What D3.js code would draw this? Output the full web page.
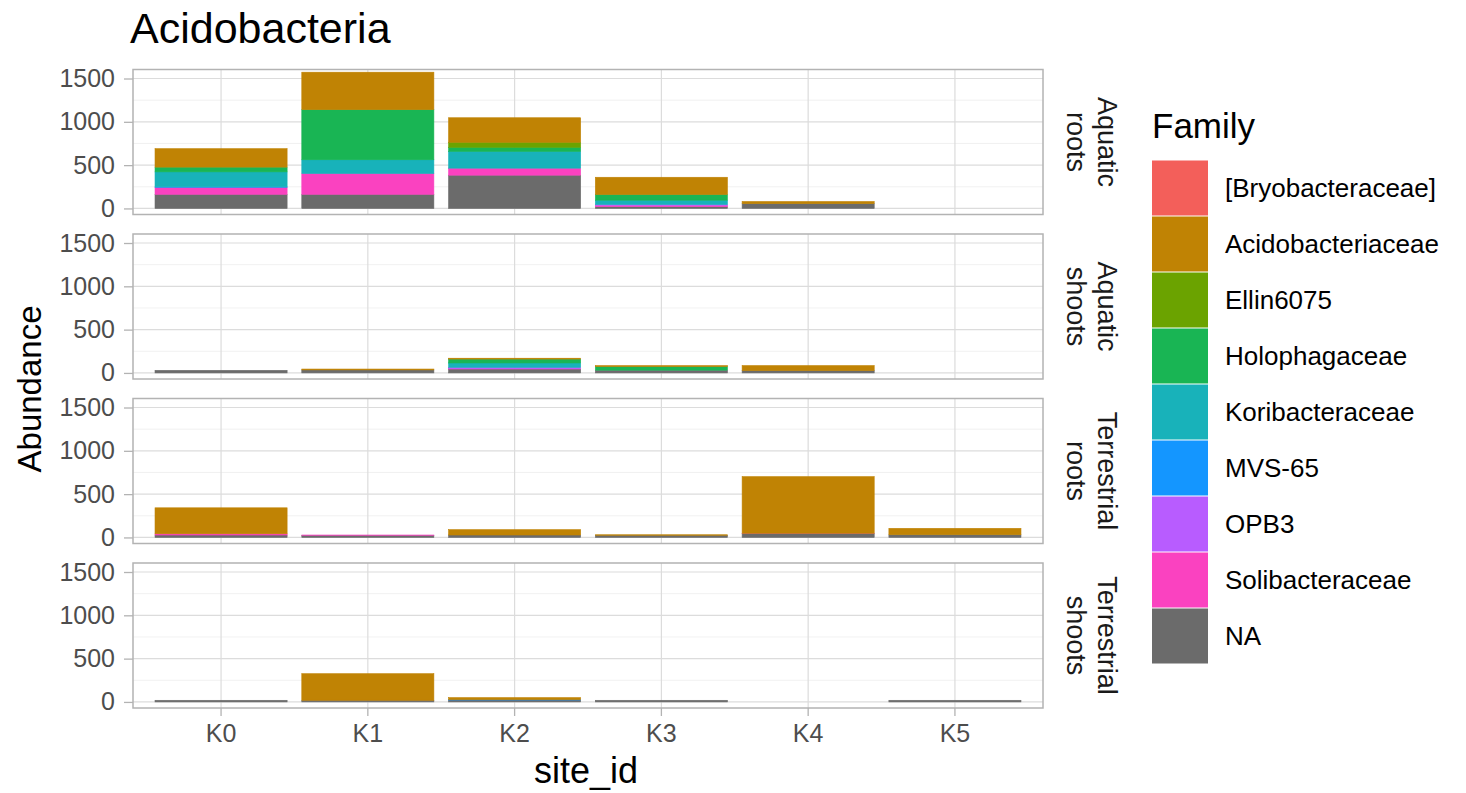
<!DOCTYPE html>
<html><head><meta charset="utf-8">
<script src="https://cdn.jsdelivr.net/npm/d3@7"></script>
<style>body{margin:0;background:#fff;} text{font-family:"Liberation Sans",Arial,sans-serif;}</style>
</head><body>
<svg id="c" width="1466" height="793"></svg>
<script>
const sites = ["K0","K1","K2","K3","K4","K5"];
const families = ["[Bryobacteraceae]","Acidobacteriaceae","Ellin6075","Holophagaceae","Koribacteraceae","MVS-65","OPB3","Solibacteraceae","NA"];
const familyColors = ["#F35F5A","#C08304","#6BA300","#19B554","#18B2BA","#1496FF","#B85CFF","#FA42C0","#6B6B6B"];
const facetLines = [["Aquatic","roots"],["Aquatic","shoots"],["Terrestrial","roots"],["Terrestrial","shoots"]];
const yTicks = [0,500,1000,1500];
const yMinor = [250,750,1250];

// values per facet, per family (sites K0..K5)
const aquaticRoots = {
  "NA":               [163,163,384,20,55,0],
  "Solibacteraceae":  [81,240,81,15,0,0],
  "OPB3":             [0,0,0,10,0,0],
  "MVS-65":           [5,0,0,0,0,0],
  "Koribacteraceae":  [173,159,194,50,0,0],
  "Holophagaceae":    [55,578,47,65,0,0],
  "Ellin6075":        [0,0,58,0,0,0],
  "Acidobacteriaceae":[213,433,283,200,25,0]
};
const aquaticShoots = {
  "NA":               [30,35,45,25,27,0],
  "Solibacteraceae":  [0,0,5,3,0,0],
  "OPB3":             [0,0,15,0,0,0],
  "Koribacteraceae":  [0,0,50,0,0,0],
  "Holophagaceae":    [0,0,45,45,0,0],
  "Acidobacteriaceae":[0,10,10,12,58,0]
};
const terrestrialRoots = {
  "NA":               [28,25,28,25,46,31],
  "Solibacteraceae":  [14,3,0,0,2,0],
  "Acidobacteriaceae":[300,0,62,6,654,74]
};
const terrestrialShoots = {
  "NA":               [19,19,22,19,0,19],
  "MVS-65":           [0,0,4,0,0,0],
  "Acidobacteriaceae":[0,307,24,0,0,0]
};
const facetData = [aquaticRoots, aquaticShoots, terrestrialRoots, terrestrialShoots];

const svg = d3.select("#c");
const panelLeft = 133, panelRight = 1043, panelH = 145, panelStep = 164.5, firstTop = 69.5;
const color = d3.scaleOrdinal().domain(families).range(familyColors);
const x = d3.scaleBand().domain(sites).range([panelLeft, panelRight]).paddingInner(0.1).paddingOuter(0.15);
const stackOrder = families.slice().reverse(); // NA at bottom, first level on top

facetData.forEach((data, pi) => {
  const top = firstTop + pi * panelStep;
  const y = d3.scaleLinear().domain([-70, 1604]).range([top + panelH, top]);
  const g = svg.append("g");
  g.selectAll(".mn").data(yMinor).join("line")
    .attr("x1", panelLeft).attr("x2", panelRight)
    .attr("y1", d => y(d)).attr("y2", d => y(d))
    .attr("stroke", "#ededed").attr("stroke-width", 0.8);
  g.selectAll(".mj").data(yTicks).join("line")
    .attr("x1", panelLeft).attr("x2", panelRight)
    .attr("y1", d => y(d)).attr("y2", d => y(d))
    .attr("stroke", "#dcdcdc").attr("stroke-width", 1.2);
  g.selectAll(".vx").data(sites).join("line")
    .attr("x1", d => x(d) + x.bandwidth()/2).attr("x2", d => x(d) + x.bandwidth()/2)
    .attr("y1", top).attr("y2", top + panelH)
    .attr("stroke", "#dcdcdc").attr("stroke-width", 1.2);
  const rows = sites.map((s, i) => {
    const r = {site: s};
    families.forEach(f => r[f] = data[f] ? data[f][i] : 0);
    return r;
  });
  const stacked = d3.stack().keys(stackOrder)(rows);
  stacked.forEach(layer => {
    g.selectAll(null).data(layer.filter(d => d[1] - d[0] > 0)).join("rect")
      .attr("x", d => x(d.data.site))
      .attr("width", x.bandwidth())
      .attr("y", d => y(d[1]))
      .attr("height", d => y(d[0]) - y(d[1]))
      .attr("fill", color(layer.key))
      .attr("stroke", color(layer.key)).attr("stroke-width", 0.6);
  });
  g.append("rect").attr("x", panelLeft).attr("y", top).attr("width", panelRight - panelLeft).attr("height", panelH)
    .attr("fill", "none").attr("stroke", "#b3b3b3").attr("stroke-width", 1.5);
  const ax = g.append("g").attr("transform", `translate(${panelLeft},0)`)
    .call(d3.axisLeft(y).tickValues(yTicks).tickFormat(d3.format("d")).tickSize(9).tickPadding(9));
  ax.select(".domain").remove();
  ax.selectAll("line").attr("stroke", "#b3b3b3").attr("stroke-width", 1.3);
  ax.selectAll("text").attr("fill", "#4d4d4d").style("font-size", "25px").style("font-family", "Liberation Sans, Arial, sans-serif");
  const st = svg.append("g").attr("transform", `translate(1089,${top + panelH/2}) rotate(90)`);
  st.append("text").attr("text-anchor", "middle").attr("y", -9).style("font-size", "27px").attr("fill", "#1a1a1a").text(facetLines[pi][0]);
  st.append("text").attr("text-anchor", "middle").attr("y", 22).style("font-size", "27px").attr("fill", "#1a1a1a").text(facetLines[pi][1]);

  if (pi === facetData.length - 1) {
    const xa = svg.append("g").attr("transform", `translate(0,${top + panelH})`)
      .call(d3.axisBottom(x).tickSize(8).tickPadding(8));
    xa.select(".domain").remove();
    xa.selectAll("line").attr("stroke", "#b3b3b3").attr("stroke-width", 1.3);
    xa.selectAll("text").attr("fill", "#4d4d4d").style("font-size", "25px").style("font-family", "Liberation Sans, Arial, sans-serif");
  }
});

svg.append("text").attr("x", 130).attr("y", 43).style("font-size", "43px").attr("fill", "#000").text("Acidobacteria");
svg.append("text").attr("transform", "translate(41,389) rotate(-90)").attr("text-anchor", "middle")
  .style("font-size", "33px").attr("fill", "#000").text("Abundance");
svg.append("text").attr("x", 586).attr("y", 783).attr("text-anchor", "middle")
  .style("font-size", "36px").attr("fill", "#000").text("site_id");

const lg = svg.append("g");
lg.append("text").attr("x", 1152).attr("y", 138).style("font-size", "35px").attr("fill", "#000").text("Family");
families.forEach((f, i) => {
  const ty = 160 + i * 56;
  lg.append("rect").attr("x", 1152).attr("y", ty + 0.5).attr("width", 56).attr("height", 55)
    .attr("fill", color(f));
  lg.append("text").attr("x", 1225).attr("y", ty + 28).attr("dy", "0.35em")
    .style("font-size", "26px").attr("fill", "#000").text(f);
});
</script>
</body></html>
